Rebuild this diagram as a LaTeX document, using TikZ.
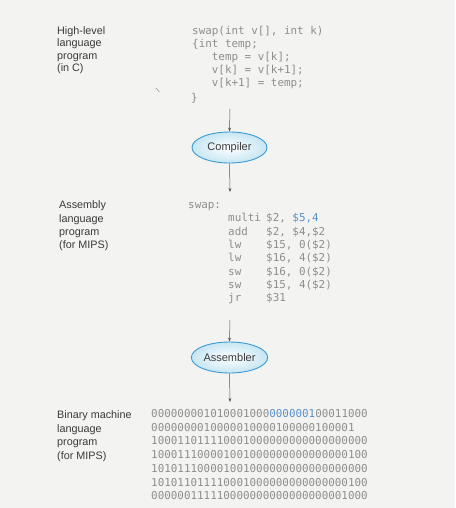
\documentclass[tikz,border=0pt]{standalone}
\usepackage{fontspec}
\setmainfont{Liberation Sans}
\newfontfamily\codefont{DejaVu Sans Mono}
\usetikzlibrary{arrows.meta,shapes.geometric}
\definecolor{bg}{HTML}{F3F3F1}
\definecolor{labelc}{HTML}{3A3A3A}
\definecolor{codec}{HTML}{8E8E8E}
\definecolor{codeblue}{HTML}{5B8FC9}
\definecolor{ellline}{HTML}{3A9AD4}
\definecolor{ellfill}{HTML}{C6E6F3}
\definecolor{arrowc}{HTML}{555555}
\begin{document}
\begin{tikzpicture}[x=1pt,y=-1pt,
  lbl/.style={anchor=base west,inner sep=0pt,font=\fontsize{10.8}{13}\selectfont,text=labelc},
  code/.style={anchor=base west,inner sep=0pt,font=\codefont\fontsize{10.9}{13}\selectfont,text=codec},
  tool/.style={ellipse,draw=ellline,line width=0.9pt,minimum width=75pt,minimum height=31pt,inner sep=1pt,inner color=white,outer color=ellfill,font=\fontsize{11}{13}\selectfont,text=labelc},
  flow/.style={draw=arrowc,line width=0.5pt,-{Stealth[length=4pt,width=3pt]}}]
\fill[bg] (0,0) rectangle (455,508);
\useasboundingbox (0,0) rectangle (455,508);

% ---- High-level language
\node[lbl] (l1a) at (57,34.5) {High-level};
\node[lbl] (l1b) at (57,47) {language};
\node[lbl] (l1c) at (57,59.5) {program};
\node[lbl] (l1d) at (57,72) {(in C)};

\node[code] (c1) at (192,34.5) {swap(int v[], int k)};
\node[code] (c2) at (192,47.5) {\{int temp;};
\node[code] (c3) at (211.7,60.5) {temp = v[k];};
\node[code] (c4) at (211.7,73.5) {v[k] = v[k+1];};
\node[code] (c5) at (211.7,86.5) {v[k+1] = temp;};
\node[code] (c6) at (191,101.5) {\}};
\draw[codec,line width=0.5pt] (156,88) -- (159.5,92);

% ---- Compiler
\coordinate (a1) at (230,109);
\node[tool] (comp) at (229.5,147.5) {Compiler};
\coordinate (a2) at (230,192);
\draw[flow] (a1) -- (comp.north);
\draw[flow] (comp.south) -- (a2);

% ---- Assembly language
\node[lbl] (l2a) at (59,208.5) {Assembly};
\node[lbl] (l2b) at (59,222) {language};
\node[lbl] (l2c) at (59,235) {program};
\node[lbl] (l2d) at (59,248.5) {(for MIPS)};

\node[code] (s0) at (188,208.5) {swap:};
\node[code] (m1) at (228,221.8) {multi};
\node[code] (o1) at (266,221.8) {\$2, \textcolor{codeblue}{\$5,4}};
\node[code] (m2) at (228,235) {add};
\node[code] (o2) at (266,235) {\$2, \$4,\$2};
\node[code] (m3) at (228,248.3) {lw};
\node[code] (o3) at (266,248.3) {\$15, 0(\$2)};
\node[code] (m4) at (228,261.6) {lw};
\node[code] (o4) at (266,261.6) {\$16, 4(\$2)};
\node[code] (m5) at (228,275) {sw};
\node[code] (o5) at (266,275) {\$16, 0(\$2)};
\node[code] (m6) at (228,288.3) {sw};
\node[code] (o6) at (266,288.3) {\$15, 4(\$2)};
\node[code] (m7) at (228,301.6) {jr};
\node[code] (o7) at (266,301.6) {\$31};

% ---- Assembler
\coordinate (a3) at (230,320);
\node[tool] (asm) at (229.5,357.5) {Assembler};
\coordinate (a4) at (230,402);
\draw[flow] (a3) -- (asm.north);
\draw[flow] (asm.south) -- (a4);

% ---- Binary machine language
\node[lbl] (l3a) at (57,418) {Binary machine};
\node[lbl] (l3b) at (57,432) {language};
\node[lbl] (l3c) at (57,445) {program};
\node[lbl] (l3d) at (57,459) {(for MIPS)};

\node[code] (b1) at (151,417.5) {000000001010001000\textcolor{codeblue}{0000001}00011000};
\node[code] (b2) at (151,431.2) {0000000010000010000100000100001};
\node[code] (b3) at (151,444.9) {100011011110001000000000000000000};
\node[code] (b4) at (151,458.6) {100011100001001000000000000000100};
\node[code] (b5) at (151,472.3) {101011100001001000000000000000000};
\node[code] (b6) at (151,486) {101011011110001000000000000000100};
\node[code] (b7) at (151,499.7) {000000111110000000000000000001000};
\end{tikzpicture}
\end{document}
